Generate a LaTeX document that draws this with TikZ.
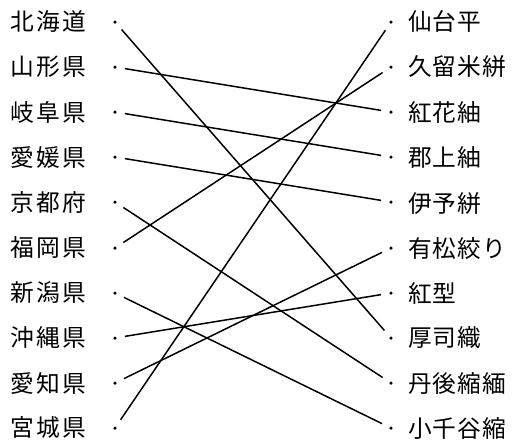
\documentclass[tikz,border=0pt]{standalone}
\usepackage{fontspec}
\newfontfamily\jfont[WordSpace=0.8]{Noto Sans CJK JP}
\newfontfamily\jfontr[WordSpace=0.4]{Noto Sans CJK JP}
\usetikzlibrary{positioning}

\begin{document}
\begin{tikzpicture}[
  x=0.02cm, y=-0.02cm,
  font=\jfont\fontsize{13.5pt}{16pt}\selectfont,
  lbl/.style={anchor=west, inner sep=0pt},
  rlbl/.style={lbl, font=\jfontr\fontsize{13.5pt}{16pt}\selectfont},
  pt/.style={circle, fill=black, inner sep=0pt, minimum size=0.07cm},
  link/.style={line width=0.85pt, shorten <=4.5pt, shorten >=4.5pt},
]
\useasboundingbox (0,0) rectangle (512,440);

%% ---- left column: prefectures ----
\node[lbl] (hokkaido) at (10,21)    {北 海 道};
\node[lbl] (yamagata) at (10,67)    {山 形 県};
\node[lbl] (gifu)     at (10,112.5) {岐 阜 県};
\node[lbl] (ehime)    at (10,157.5) {愛 媛 県};
\node[lbl] (kyoto)    at (10,203)   {京 都 府};
\node[lbl] (fukuoka)  at (10,248)   {福 岡 県};
\node[lbl] (niigata)  at (10,293)   {新 潟 県};
\node[lbl] (okinawa)  at (10,338)   {沖 縄 県};
\node[lbl] (aichi)    at (10,383)   {愛 知 県};
\node[lbl] (miyagi)   at (10,428)   {宮 城 県};

\node[pt] (hokkaidoP) at (115,22)  {};
\node[pt] (yamagataP) at (115,67)  {};
\node[pt] (gifuP)     at (115,112) {};
\node[pt] (ehimeP)    at (115,157) {};
\node[pt] (kyotoP)    at (115,202) {};
\node[pt] (fukuokaP)  at (115,248) {};
\node[pt] (niigataP)  at (115,293) {};
\node[pt] (okinawaP)  at (115,338) {};
\node[pt] (aichiP)    at (115,383) {};
\node[pt] (miyagiP)   at (115,428) {};

%% ---- right column: textiles ----
\node[rlbl] (sendai)   at (408,21)    {仙 台 平};
\node[rlbl] (kurume)   at (408,67)    {久 留 米 絣};
\node[rlbl] (benibana) at (408,112.5) {紅 花 紬};
\node[rlbl] (gujo)     at (408,157.5) {郡 上 紬};
\node[rlbl] (iyo)      at (408,203)   {伊 予 絣};
\node[rlbl] (arimatsu) at (408,248)   {有 松 絞 り};
\node[rlbl] (bingata)  at (408,293)   {紅 型};
\node[rlbl] (attush)   at (408,338)   {厚 司 織};
\node[rlbl] (tango)    at (408,383)   {丹 後 縮 緬};
\node[rlbl] (ojiya)    at (408,428)   {小 千 谷 縮};

\node[pt] (sendaiP)   at (391,22)  {};
\node[pt] (kurumeP)   at (391,67)  {};
\node[pt] (benibanaP) at (391,112) {};
\node[pt] (gujoP)     at (391,157) {};
\node[pt] (iyoP)      at (391,202) {};
\node[pt] (arimatsuP) at (391,248) {};
\node[pt] (bingataP)  at (391,293) {};
\node[pt] (attushP)   at (391,338) {};
\node[pt] (tangoP)    at (391,383) {};
\node[pt] (ojiyaP)    at (391,428) {};

%% ---- matching lines ----
\draw[link] (hokkaidoP) -- (attushP);
\draw[link] (yamagataP) -- (benibanaP);
\draw[link] (gifuP)     -- (gujoP);
\draw[link] (ehimeP)    -- (iyoP);
\draw[link] (kyotoP)    -- (tangoP);
\draw[link] (fukuokaP)  -- (kurumeP);
\draw[link] (niigataP)  -- (ojiyaP);
\draw[link] (okinawaP)  -- (bingataP);
\draw[link] (aichiP)    -- (arimatsuP);
\draw[link] (miyagiP)   -- (sendaiP);

\end{tikzpicture}
\end{document}
